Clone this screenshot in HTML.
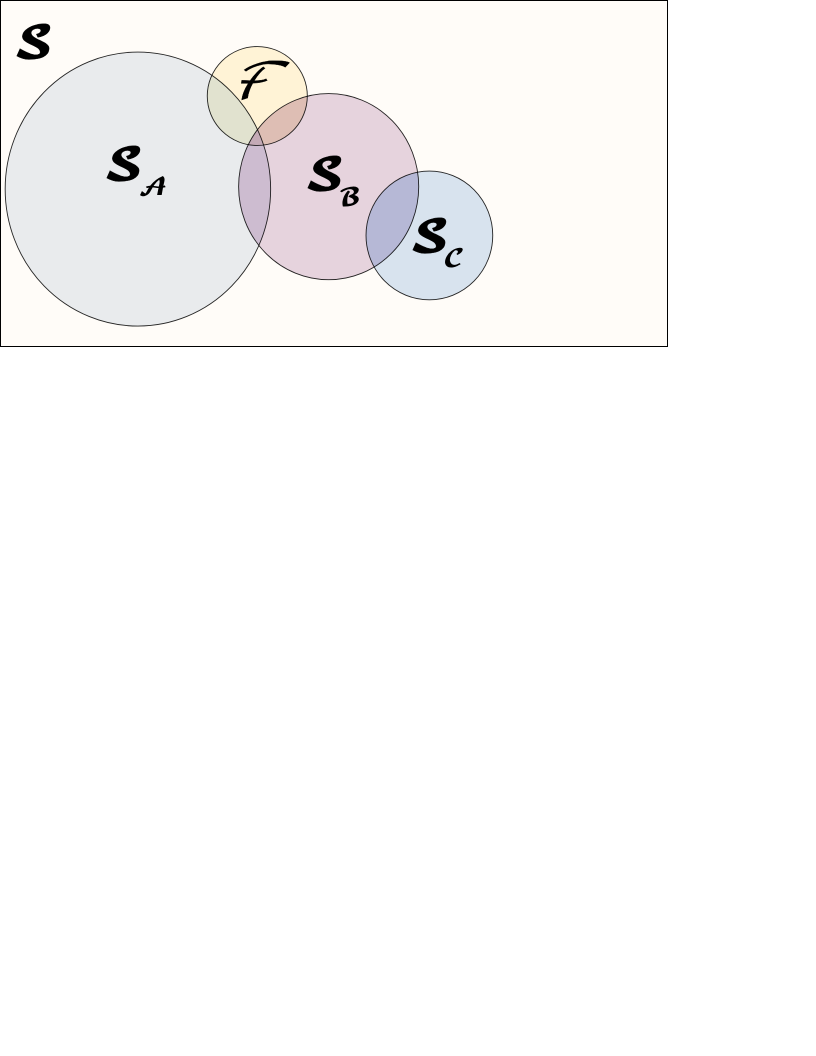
<!DOCTYPE html>
<html>
<head>
<meta charset="utf-8">
<title>Venn diagram of sets</title>
<style>
  html, body { margin: 0; padding: 0; background: #fff; width: 816px; height: 1056px; overflow: hidden; }
  svg { display: block; position: absolute; left: 0; top: 0; }
  text { font-family: "DejaVu Math TeX Gyre", "DejaVu Serif", "Liberation Serif", serif; fill: #000; }
  .big { font-size: 42px; stroke: #000; stroke-width: 0.3px; }
  .sub { font-size: 23px; }
  .fam { font-size: 56px; stroke: #000; stroke-width: 0.3px; }
</style>
</head>
<body>
<svg id="venn" width="816" height="1056" viewBox="0 0 816 1056" xmlns="http://www.w3.org/2000/svg">
  <rect x="0.5" y="0.5" width="667" height="346" fill="#fffcf8" stroke="#000" stroke-width="1"/>
  <defs id="clips"></defs>
  <g id="sets"></g>
  <g id="overlaps"></g>
  <g id="outlines"></g>
  <g>
    <text class="big" transform="translate(13,57) scale(1.1,1)">𝓢</text>
    <text class="big" transform="translate(103,179) scale(1.1,1)">𝓢</text>
    <text class="sub" transform="translate(138,195) scale(1.1,1)">𝓐</text>
    <text class="big" transform="translate(304,189) scale(1.1,1)">𝓢</text>
    <text class="sub" transform="translate(338,205) scale(1.1,1)">𝓑</text>
    <text class="big" transform="translate(409,251) scale(1.1,1)">𝓢</text>
    <text class="sub" transform="translate(443,266) scale(1.1,1)">𝓒</text>
    <text class="fam" transform="translate(229,99) scale(1,0.9) skewX(-18)">ℱ</text>
  </g>
</svg>
<script>
  // Set-space units: the universe frame spans 0-100 on each axis.
  const setNames = ['set-a', 'set-f', 'set-b', 'set-c'];
  const centerU = [20.6, 38.5, 49.2, 64.3];
  const centerV = [54.5, 27.6, 53.8, 67.9];
  const radiusU = [19.9, 7.5, 13.5, 9.5];
  const radiusV = [39.6, 14.3, 26.9, 18.6];
  const fills = ['#e9ebed', '#fff3d6', '#e6d3dd', '#d8e3ee'];
  // Regions where two or three sets intersect (indices into setNames).
  const overlapSets = [[0, 1], [0, 2], [1, 2], [2, 3], [0, 1, 2]];
  const overlapFills = ['#e1e2cf', '#cdbcd0', '#debeb4', '#b6b8d6', '#c4aab6'];

  const frameLeft = 0.5, frameTop = 0.5, frameWidth = 667, frameHeight = 346;
  const axisX = function (u) { return frameLeft + u / 100 * frameWidth; };
  const axisY = function (v) { return frameTop + v / 100 * frameHeight; };
  const lenX = function (u) { return u / 100 * frameWidth; };
  const lenY = function (v) { return v / 100 * frameHeight; };

  const NS = 'http://www.w3.org/2000/svg';
  function shape(i) {
    const el = document.createElementNS(NS, 'ellipse');
    el.setAttribute('cx', axisX(centerU[i]));
    el.setAttribute('cy', axisY(centerV[i]));
    el.setAttribute('rx', lenX(radiusU[i]));
    el.setAttribute('ry', lenY(radiusV[i]));
    return el;
  }

  const clips = document.getElementById('clips');
  const sets = document.getElementById('sets');
  const outlines = document.getElementById('outlines');
  setNames.forEach(function (name, i) {
    const clip = document.createElementNS(NS, 'clipPath');
    clip.setAttribute('id', 'clip-' + i);
    clip.appendChild(shape(i));
    clips.appendChild(clip);

    const el = shape(i);
    
    
    el.setAttribute('fill', fills[i]);
    sets.appendChild(el);

    const line = shape(i);
    
    
    line.setAttribute('fill', 'none');
    line.setAttribute('stroke', '#000');
    line.setAttribute('stroke-opacity', '0.85');
    line.setAttribute('stroke-width', '0.9');
    outlines.appendChild(line);
  });

  const overlaps = document.getElementById('overlaps');
  overlapSets.forEach(function (members, k) {
    let host = overlaps;
    members.slice(1).forEach(function (m) {
      const g = document.createElementNS(NS, 'g');
      g.setAttribute('clip-path', 'url(#clip-' + m + ')');
      host.appendChild(g);
      host = g;
    });
    const el = shape(members[0]);
    
    
    el.setAttribute('fill', overlapFills[k]);
    host.appendChild(el);
  });
</script>
</body>
</html>
